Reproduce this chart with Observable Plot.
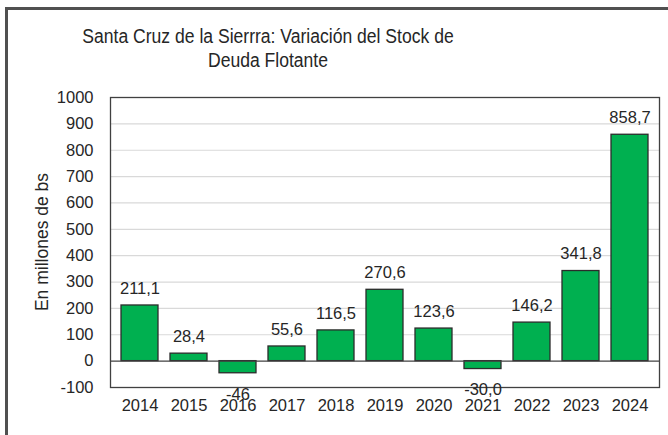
<!DOCTYPE html>
<html>
<head>
<meta charset="utf-8">
<script src="https://cdn.jsdelivr.net/npm/d3@7"></script>
<script src="https://cdn.jsdelivr.net/npm/@observablehq/plot@0.6"></script>
<style>
  html, body { margin: 0; padding: 0; background: #fff; }
  #wrap { position: relative; width: 668px; height: 435px; overflow: hidden; font-family: "Liberation Sans", Arial, sans-serif; color: #262626; }
  #border { position: absolute; left: 5px; top: 7px; width: 700px; height: 500px; border-left: 3px solid #505050; border-top: 3px solid #505050; box-sizing: border-box; }
  #title { position: absolute; left: 0; top: 23.5px; width: 536px; text-align: center; font-size: 19.5px; line-height: 24px; transform: scaleX(0.9); transform-origin: 50% 50%; }
  #ylab { position: absolute; left: 42px; top: 242px; transform: translate(-50%, -50%) rotate(-90deg); font-size: 17.5px; white-space: nowrap; }
  #chart { position: absolute; left: 0; top: 0; }
</style>
</head>
<body>
<div id="wrap">
  <div id="border"></div>
  <div id="chart"></div>
  <div id="title">Santa Cruz de la Sierrra: Variación del Stock de<br>Deuda Flotante</div>
  <div id="ylab">En millones de bs</div>
</div>
<script>
const years = ["2014","2015","2016","2017","2018","2019","2020","2021","2022","2023","2024"];
const values = [211.1, 28.4, -46, 55.6, 116.5, 270.6, 123.6, -30.0, 146.2, 341.8, 858.7];
const valueLabels = ["211,1","28,4","-46","55,6","116,5","270,6","123,6","-30,0","146,2","341,8","858,7"];
const yTicks = [-100, 0, 100, 200, 300, 400, 500, 600, 700, 800, 900, 1000];
const gridLines = [100, 200, 300, 400, 500, 600, 700, 800, 900];

const data = years.map((y, i) => ({year: y, value: values[i], label: valueLabels[i]}));

const chart = Plot.plot({
  width: 668,
  height: 435,
  marginTop: 97,
  marginBottom: 48,
  marginLeft: 110,
  marginRight: 9,
  style: {fontFamily: "Liberation Sans, Arial, sans-serif", fontSize: "16.5px", color: "#262626", background: "transparent", overflow: "visible"},
  x: {domain: years, paddingInner: 0.24, paddingOuter: 0.12, label: null},
  y: {domain: [-100, 1000], label: null},
  marks: [
    Plot.ruleY(gridLines, {stroke: "#d9d9d9", strokeWidth: 1.2}),
    Plot.barY(data, {x: "year", y: "value", fill: "#00b050", stroke: "#2b2b2b", strokeWidth: 1.3}),
    Plot.ruleY([0], {stroke: "#404040", strokeWidth: 1.3}),
    Plot.frame({stroke: "#404040", strokeWidth: 1.3}),
    Plot.text(data.filter(d => d.value >= 0), {x: "year", y: "value", text: "label", dy: -17, lineAnchor: "middle", fill: "#262626", fontSize: 16.5}),
    Plot.text(data.filter(d => d.value < 0), {x: "year", y: "value", text: "label", dy: 21, lineAnchor: "middle", fill: "#262626", fontSize: 16.5}),
    Plot.axisY(yTicks, {tickSize: 0, tickPadding: 17, label: null, fontSize: 16.5, tickFormat: d => String(d)}),
    Plot.axisX({tickSize: 0, tickPadding: 12, label: null, fontSize: 16.5})
  ]
});
document.getElementById("chart").appendChild(chart);
</script>
</body>
</html>
